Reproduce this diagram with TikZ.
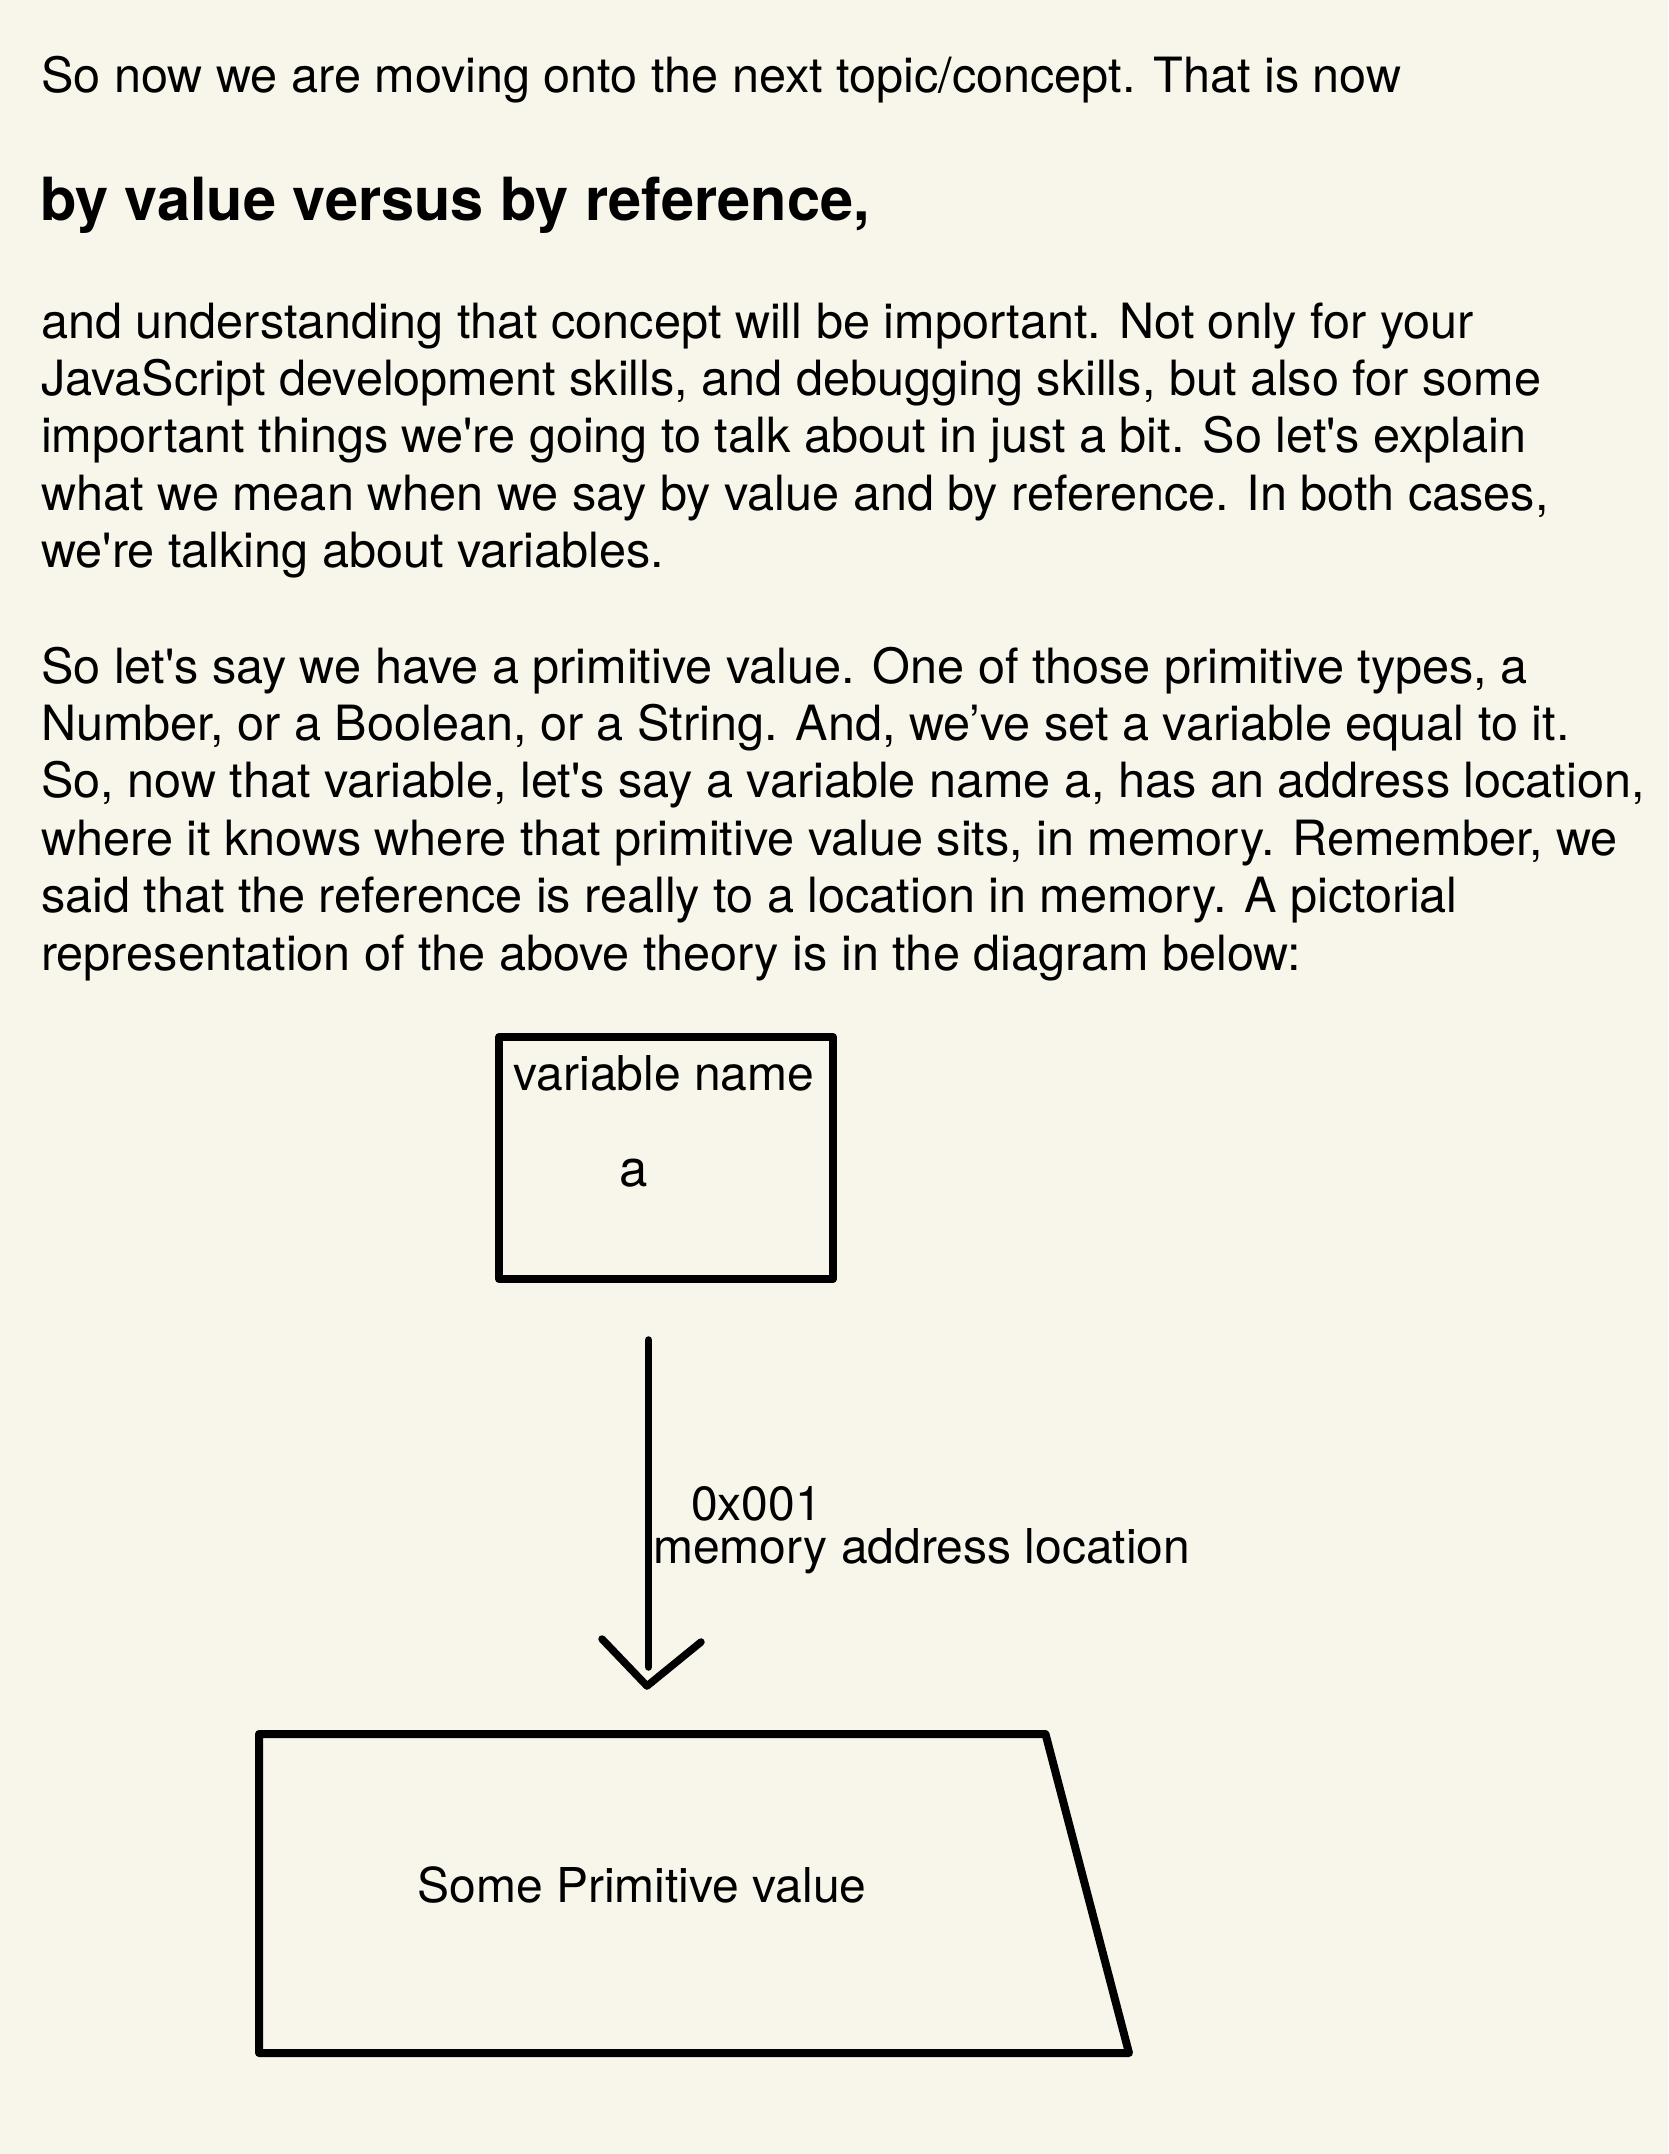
\documentclass[tikz,border=0pt]{standalone}
\usepackage{fontspec}
\newfontfamily\hv{TeX Gyre Heros}
\definecolor{paper}{RGB}{248,246,234}
\definecolor{ink}{RGB}{0,0,0}
\begin{document}
\begin{tikzpicture}[x=1pt,y=-1pt,
  txt/.style={anchor=base west, inner sep=0pt, text=ink, font=\hv\fontsize{48.6}{57}\selectfont},
  headtxt/.style={anchor=base west, inner sep=0pt, text=ink, font=\hv\bfseries\fontsize{59.5}{70}\selectfont},
  lbl/.style={anchor=base, inner sep=0pt, text=ink, font=\hv\fontsize{48}{50}\selectfont},
  lblw/.style={anchor=base west, inner sep=0pt, text=ink, font=\hv\fontsize{48}{50}\selectfont},
  shapeline/.style={draw=ink, line width=8pt, line join=round, line cap=round}
]
\fill[paper] (0,0) rectangle (1668,2154);
\useasboundingbox (0,0) rectangle (1668,2154);

% intro text
\node[txt] (t1) at (41,92.3) {So now we are moving onto the next topic/concept. That is now};
\node[headtxt] (hd) at (40,220) {by value versus by reference,};

\node[txt] (p1) at (41,338.3) {and understanding that concept will be important. Not only for your};
\node[txt] (p2) at (41,395.6) {JavaScript development skills, and debugging skills, but also for some};
\node[txt] (p3) at (41,452.9) {important things we're going to talk about in just a bit. So let's explain};
\node[txt] (p4) at (41,510.2) {what we mean when we say by value and by reference. In both cases,};
\node[txt] (p5) at (41,567.5) {we're talking about variables.};

\node[txt] (q1) at (41,683.0) {So let's say we have a primitive value. One of those primitive types, a};
\node[txt] (q2) at (41,740.4) {Number, or a Boolean, or a String. And, we’ve set a variable equal to it.};
\node[txt] (q3) at (41,797.8) {So, now that variable, let's say a variable name a, has an address location,};
\node[txt] (q4) at (41,855.2) {where it knows where that primitive value sits, in memory. Remember, we};
\node[txt] (q5) at (41,912.6) {said that the reference is really to a location in memory. A pictorial};
\node[txt] (q6) at (41,970.0) {representation of the above theory is in the diagram below:};

% variable box
\node[shapeline, rectangle, minimum width=334pt, minimum height=242pt, inner sep=0pt] (var) at (666,1158) {};
\node[lbl] (vname) at (664,1090) {variable name};
\node[anchor=base, inner sep=0pt, text=ink, font=\hv\fontsize{51}{53}\selectfont] (va) at (634,1186.7) {a};

% arrow
\coordinate (arrS) at (648.5,1340);
\coordinate (arrE) at (648.5,1667);
\coordinate (tipL) at (602,1639);
\coordinate (tip) at (647,1686);
\coordinate (tipR) at (701,1642);
\draw[shapeline, line width=7.5pt] (arrS) -- (arrE);
\draw[shapeline, line width=7.5pt] (tipL) -- (tip) -- (tipR);
\node[lblw] (addr) at (691,1520) {0x001};
\node[lblw] (mem) at (653,1563) {memory address location};

% primitive value shape
\coordinate (pTL) at (259,1734);
\coordinate (pTR) at (1045.5,1734);
\coordinate (pBR) at (1129,2053);
\coordinate (pBL) at (259,2053);
\draw[shapeline] (pTL) -- (pTR) -- (pBR) -- (pBL) -- cycle;
\node[lbl] (prim) at (642,1902.7) {Some Primitive value};
\end{tikzpicture}
\end{document}
